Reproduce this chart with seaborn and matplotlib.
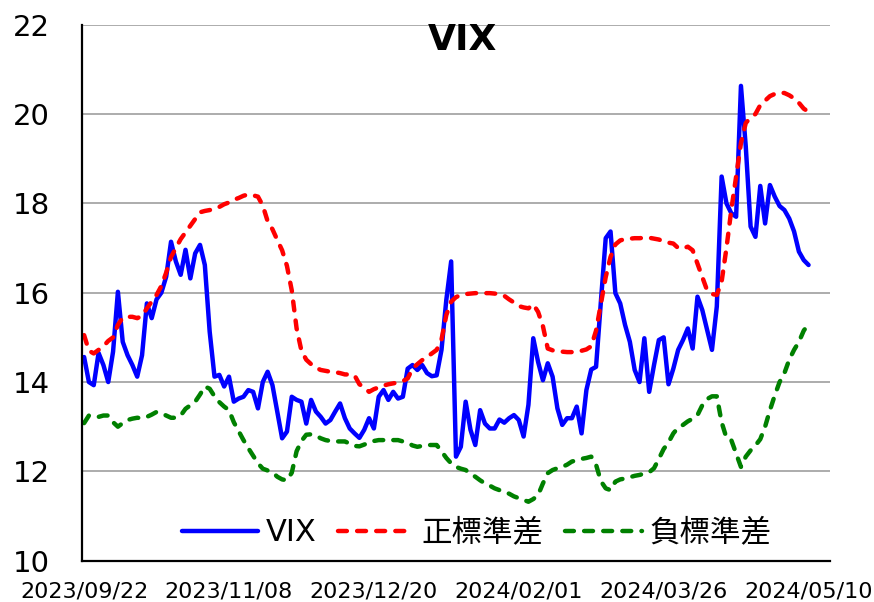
import matplotlib
matplotlib.use('Agg')
import pandas as pd
import matplotlib.pyplot as plt
import seaborn as sns

# 數據：台股交易日序列 (0..150)，每 30 個交易日標一個日期
vix = [14.56, 14.0, 13.93, 14.65, 14.38, 14.0, 14.68, 16.02, 14.9, 14.6,
       14.38, 14.12, 14.6, 15.76, 15.43, 15.85, 16.0, 16.36, 17.14, 16.7,
       16.4, 16.96, 16.32, 16.88, 17.07, 16.62, 15.13, 14.12, 14.16, 13.9,
       14.12, 13.56, 13.63, 13.67, 13.82, 13.78, 13.41, 14.0, 14.23, 13.93,
       13.34, 12.74, 12.89, 13.67, 13.6, 13.56, 13.07, 13.6, 13.34, 13.22,
       13.07, 13.15, 13.34, 13.52, 13.19, 12.96, 12.85, 12.75, 12.93, 13.19,
       12.96, 13.67, 13.82, 13.6, 13.78, 13.63, 13.67, 14.3, 14.38, 14.27,
       14.38, 14.2, 14.13, 14.15, 14.72, 15.84, 16.7, 12.33, 12.55, 13.56,
       12.93, 12.59, 13.37, 13.07, 12.96, 12.96, 13.16, 13.09, 13.19, 13.26,
       13.15, 12.78, 13.49, 14.98, 14.45, 14.04, 14.42, 14.12, 13.41, 13.04,
       13.19, 13.19, 13.45, 12.85, 13.82, 14.28, 14.34, 15.8, 17.22, 17.37,
       15.99, 15.76, 15.28, 14.9, 14.27, 14.0, 14.98, 13.78, 14.38, 14.94,
       15.0, 13.95, 14.3, 14.72, 14.94, 15.2, 14.75, 15.91, 15.61, 15.16,
       14.72, 15.69, 18.6, 18.0, 17.78, 17.7, 20.63, 19.27, 17.48, 17.25,
       18.39, 17.55, 18.41, 18.15, 17.94, 17.85, 17.66, 17.37, 16.92, 16.73,
       16.62]

pos_sd = [15.05, 14.7, 14.64, 14.72, 14.8, 14.92, 15.0, 15.28, 15.44, 15.46,
          15.46, 15.43, 15.48, 15.65, 15.8, 15.95, 16.15, 16.45, 16.8, 17.0,
          17.2, 17.35, 17.5, 17.65, 17.8, 17.83, 17.85, 17.87, 17.92, 17.98,
          18.02, 18.08, 18.12, 18.17, 18.2, 18.18, 18.15, 17.95, 17.6, 17.42,
          17.18, 16.95, 16.6, 16.05, 15.2, 14.7, 14.5, 14.4, 14.32, 14.27,
          14.25, 14.23, 14.22, 14.2, 14.17, 14.17, 14.15, 13.95, 13.88, 13.78,
          13.84, 13.88, 13.92, 13.95, 13.97, 13.99, 14.02, 14.08, 14.3, 14.4,
          14.49, 14.56, 14.64, 14.72, 14.95, 15.5, 15.8, 15.9, 15.95, 15.97,
          15.98, 15.99, 15.99, 15.99, 15.99, 15.98, 15.97, 15.93, 15.85, 15.78,
          15.7, 15.67, 15.65, 15.74, 15.57, 15.25, 14.75, 14.71, 14.7, 14.68,
          14.67, 14.67, 14.68, 14.7, 14.73, 14.8, 15.15, 15.75, 16.35, 16.8,
          17.08, 17.17, 17.2, 17.21, 17.22, 17.22, 17.23, 17.23, 17.21, 17.19,
          17.15, 17.12, 17.1, 17.0, 16.99, 17.03, 16.95, 16.65, 16.35, 16.05,
          15.97, 15.95, 16.25, 17.0, 17.85, 18.6, 19.35, 19.8, 19.92, 20.0,
          20.2, 20.3, 20.4, 20.45, 20.48, 20.47, 20.42, 20.35, 20.25, 20.12,
          20.05]

neg_sd = [13.08, 13.25, 13.22, 13.22, 13.25, 13.25, 13.1, 13.0, 13.08, 13.15,
          13.18, 13.2, 13.19, 13.22, 13.27, 13.33, 13.3, 13.25, 13.2, 13.2,
          13.25, 13.4, 13.48, 13.56, 13.72, 13.9, 13.85, 13.68, 13.55, 13.45,
          13.37, 13.1, 12.9, 12.7, 12.52, 12.35, 12.18, 12.06, 12.02, 11.98,
          11.88, 11.82, 11.8, 11.97, 12.45, 12.68, 12.82, 12.83, 12.8, 12.74,
          12.7, 12.68, 12.67, 12.67, 12.67, 12.62, 12.57, 12.56, 12.6, 12.64,
          12.68, 12.7, 12.7, 12.68, 12.7, 12.7, 12.67, 12.64, 12.58, 12.55,
          12.57, 12.59, 12.59, 12.59, 12.45, 12.3, 12.18, 12.1, 12.06, 12.03,
          11.95, 11.88, 11.8, 11.73, 11.68, 11.62, 11.58, 11.54, 11.5, 11.44,
          11.4, 11.36, 11.32, 11.38, 11.47, 11.73, 11.96, 12.03, 12.07, 12.1,
          12.15, 12.22, 12.25, 12.28, 12.3, 12.33, 12.15, 11.78, 11.62, 11.58,
          11.77, 11.82, 11.84, 11.87, 11.9, 11.92, 11.95, 11.98, 12.07, 12.28,
          12.5, 12.65, 12.85, 12.98, 13.04, 13.12, 13.18, 13.26, 13.48, 13.62,
          13.68, 13.68, 13.1, 12.75, 12.7, 12.4, 12.1, 12.33, 12.47, 12.58,
          12.72, 13.0, 13.37, 13.7, 14.0, 14.2, 14.5, 14.72, 14.9, 15.15,
          15.3]

date_labels = ['2023/09/22', '2023/11/08', '2023/12/20',
               '2024/02/01', '2024/03/26', '2024/05/10']
series_names = ['VIX', '正標準差', '負標準差']

n = len(vix)
df = pd.DataFrame({
    'day': list(range(n)) * 3,
    'value': vix + pos_sd + neg_sd,
    'series': [s for s in series_names for _ in range(n)],
})

sns.set_style('white')
plt.rcParams['font.family'] = ['DejaVu Sans', 'Noto Sans CJK TC']
plt.rcParams['text.color'] = 'black'
plt.rcParams['xtick.color'] = 'black'
plt.rcParams['ytick.color'] = 'black'

fig = plt.figure(figsize=(8.74, 6.02), dpi=100)
ax = fig.add_axes([0.094, 0.0686, 0.856, 0.8904])

palette = {'VIX': '#0000FF', '正標準差': '#FF0000', '負標準差': '#008000'}
dashes = {'VIX': '', '正標準差': (2.0, 2.3), '負標準差': (2.0, 2.3)}
sns.lineplot(data=df, x='day', y='value', hue='series', style='series',
             palette=palette, dashes=dashes, linewidth=3.2,
             errorbar=None, legend=False, ax=ax)

for line in ax.lines:
    line.set_dash_capstyle('round')
    line.set_solid_capstyle('round')
    line.set_solid_joinstyle('round')

ax.set_xlim(-0.4, 154.5)
ax.set_ylim(10, 22)
ax.set_yticks(range(10, 23, 2))
ax.set_xticks(range(0, n, 30))
ax.set_xticklabels(date_labels)
ax.tick_params(axis='x', length=0, pad=15, labelsize=16, labelcolor='black')
ax.tick_params(axis='y', length=0, pad=23, labelsize=21, labelcolor='black')
ax.set_xlabel('')
ax.set_ylabel('')

ax.yaxis.grid(True, color='#A6A6A6', linewidth=1.3)
ax.xaxis.grid(False)
ax.set_axisbelow(True)
for side in ['top', 'right']:
    ax.spines[side].set_visible(False)
for side in ['left', 'bottom']:
    ax.spines[side].set_color('black')
    ax.spines[side].set_linewidth(1.6)

ax.text(0.508, 0.972, 'VIX', transform=ax.transAxes, ha='center',
        va='center', fontsize=26, fontweight='bold', color='black')

leg = ax.legend(ax.lines[:3], series_names, loc='center', bbox_to_anchor=(0.527, 0.052),
                ncol=3, frameon=False, fontsize=22, handlelength=2.5,
                handletextpad=0.25, columnspacing=0.7, borderaxespad=0)
for t in leg.get_texts():
    t.set_color('black')

fig.savefig('out.png', dpi=100)
